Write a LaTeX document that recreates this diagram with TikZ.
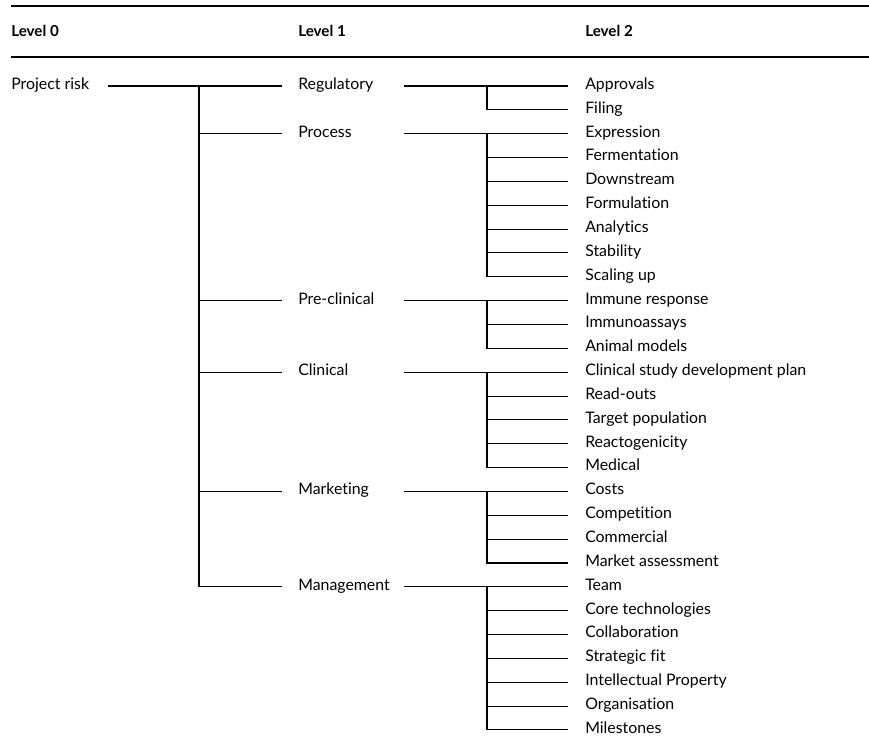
\documentclass[tikz,border=0pt]{standalone}
\usepackage{fontspec}
\setmainfont{Lato}[Ligatures=NoCommon]

\begin{document}
\begin{tikzpicture}[x=0.75pt, y=-0.75pt,
    every node/.style={font=\fontsize{11.9}{13}\selectfont, inner ysep=0pt},
    head/.style={anchor=mid west, inner xsep=0pt, font=\fontsize{11.4}{13}\selectfont\bfseries},
    root/.style={anchor=mid west, inner xsep=0pt},
    branch/.style={anchor=mid west, inner xsep=12pt},
    leaf/.style={anchor=mid west, inner xsep=12.75pt},
    link/.style={line width=0.8pt},
    rule/.style={line width=1.6pt}]
    \useasboundingbox (0,0) rectangle (869,753);
    % Header
    \draw[rule] (11,6) -- (869,6);
    \draw[rule] (11,57) -- (869,57);
    \node[head] (h0) at (11,33) {Level 0};
    \node[head] (h1) at (298,33) {Level 1};
    \node[head] (h2) at (585,33) {Level 2};
    % Columns
    \coordinate (e0) at (108,0);
    \coordinate (s0) at (199,0);
    \coordinate (e1) at (404,0);
    \coordinate (s1) at (487,0);
    % Level 0
    \node[root] (risk) at (11,86) {Project risk};
    % Level 1
    \foreach \n/\t/\r in {regulatory/Regulatory/0, process/Process/2, preclinical/Pre-clinical/9,
        clinical/Clinical/12, marketing/Marketing/17, management/Management/21}
        \node[branch] (\n) at (282, {86+23.85*\r}) {\t};
    % Level 2
    \foreach \n/\t [count=\i from 0] in {approvals/Approvals, filing/Filing,
        expression/Expression, fermentation/Fermentation, downstream/Downstream,
        formulation/Formulation, analytics/Analytics, stability/Stability, scaling/Scaling up,
        immune/Immune response, assays/Immunoassays, animal/Animal models,
        csdp/Clinical study development plan, readouts/Read-outs, target/Target population,
        reacto/Reactogenicity, medical/Medical,
        costs/Costs, competition/Competition, commercial/Commercial, market/Market assessment,
        team/Team, coretech/Core technologies, collab/Collaboration, strategic/Strategic fit,
        ip/Intellectual Property, organisation/Organisation, milestones/Milestones}
        \node[leaf] (\n) at (568, {86+23.85*\i}) {\t};
    % Connectors, level 0 to 1
    \draw[link] (e0 |- risk.mid) -- (regulatory.mid west);
    \draw[link] (s0 |- regulatory.mid) |- (management.mid west);
    \foreach \n in {process,preclinical,clinical,marketing}
        \draw[link] (s0 |- \n.mid) -- (\n.mid west);
    % Connectors, level 1 to 2
    \foreach \p/\a/\b in {regulatory/approvals/filing, process/expression/scaling,
        preclinical/immune/animal, clinical/csdp/medical, marketing/costs/market,
        management/team/milestones} {
        \draw[link] (e1 |- \p.mid) -- (\a.mid west);
        \draw[link] (s1 |- \a.mid) |- (\b.mid west);
    }
    \foreach \n in {fermentation,downstream,formulation,analytics,stability,assays,readouts,
        target,reacto,competition,commercial,coretech,collab,strategic,ip,organisation}
        \draw[link] (s1 |- \n.mid) -- (\n.mid west);
\end{tikzpicture}
\end{document}
